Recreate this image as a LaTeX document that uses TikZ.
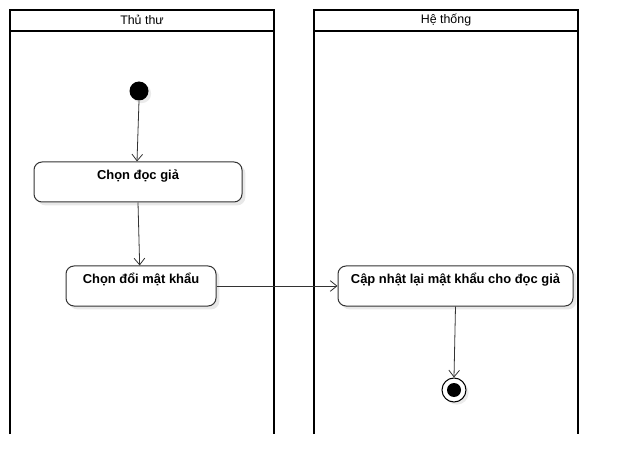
\documentclass[tikz,border=0pt]{standalone}
\usepackage{fontspec}
\setmainfont{Liberation Sans}
\usetikzlibrary{arrows.meta,shadows}
\begin{document}
\begin{tikzpicture}[x=0.75pt,y=-0.75pt,
  lane/.style={draw=black,line width=1.5pt},
  act/.style={draw=black!80,line width=0.75pt,rounded corners=6pt,fill=white,
    drop shadow={shadow xshift=2.5pt,shadow yshift=-2.5pt,fill=black!9,opacity=1}},
  lbl/.style={font=\bfseries\fontsize{9.7pt}{11pt}\selectfont,inner sep=0pt,anchor=north},
  hdr/.style={font=\fontsize{9.3pt}{11pt}\selectfont,inner sep=0pt},
  flow/.style={draw=black!80,line width=0.6pt,-{Straight Barb[length=5pt,width=8pt]}}]
\useasboundingbox (0,0) rectangle (618,474);
% lanes
\draw[lane] (10,434) -- (10,10) -- (274,10) -- (274,434);
\draw[lane] (10,31) -- (274,31);
\draw[lane] (314,434) -- (314,10) -- (578,10) -- (578,434);
\draw[lane] (314,31) -- (578,31);
\node[hdr] (h1) at (142,20) {Thủ thư};
\node[hdr] (h2) at (446,20) {Hệ thống};
% start
\node[circle,fill=black,minimum size=14.25pt,inner sep=0pt,
  drop shadow={shadow xshift=2pt,shadow yshift=-2pt,fill=black!8,opacity=1}] (s) at (139,91) {};
% activities
\node[act,minimum width=156pt,minimum height=30pt] (a1) at (138,182) {};
\node[lbl] (t1) at ([yshift=-5.8pt]a1.north) {Chọn đọc giả};
\node[act,minimum width=112.5pt,minimum height=30pt] (a2) at (141,286) {};
\node[lbl] (t2) at ([yshift=-5.8pt]a2.north) {Chọn đổi mật khẩu};
\node[act,minimum width=176.25pt,minimum height=30pt] (a3) at (455.5,286) {};
\node[lbl] (t3) at ([yshift=-5.8pt]a3.north) {Cập nhật lại mật khẩu cho đọc giả};
% end
\node[circle,draw=black,line width=0.75pt,fill=white,minimum size=18pt,inner sep=0pt,
  drop shadow={shadow xshift=2pt,shadow yshift=-2pt,fill=black!8,opacity=1}] (e) at (454,390) {};
\node[circle,fill=black,minimum size=10.5pt,inner sep=0pt] (ei) at (e.center) {};
% flows
\draw[flow] (s.south) -- ([xshift=-0.75pt]a1.north);
\draw[flow] (a1.south) -- ([xshift=-1pt]a2.north);
\draw[flow] (a2.east) -- (a3.west);
\draw[flow] (a3.south) -- (e.north);
\end{tikzpicture}
\end{document}
